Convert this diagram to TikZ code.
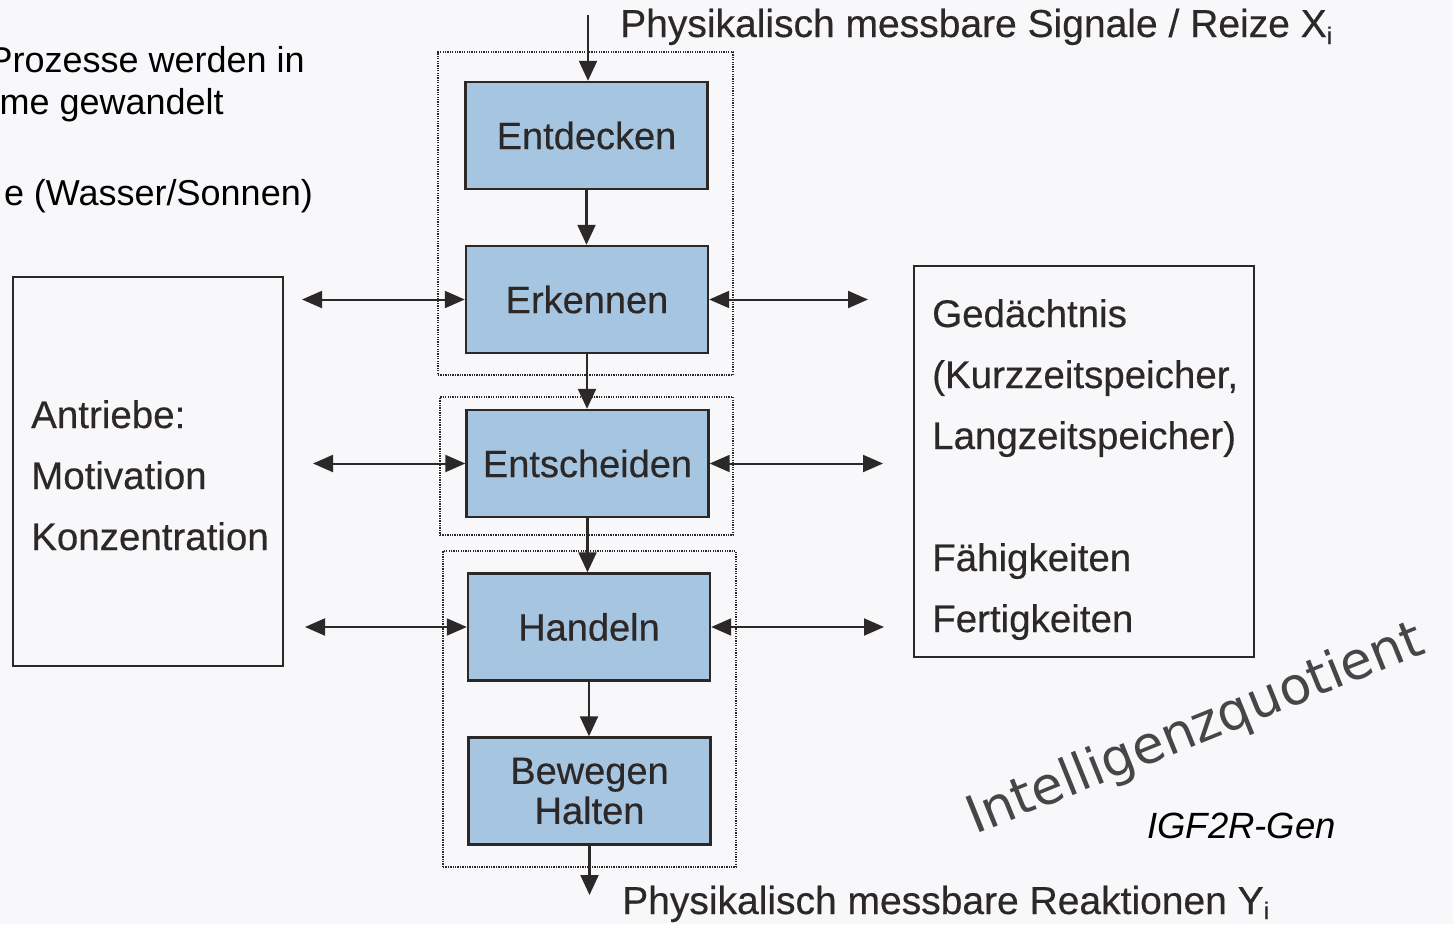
\documentclass[tikz,border=0pt]{standalone}
\usepackage{fontspec}
\setmainfont{Liberation Sans}[FakeBold=0.4]
\newfontfamily\tlfont{Liberation Sans}
\newfontfamily\ivfont{DejaVu Sans}
\usetikzlibrary{arrows.meta}
\definecolor{ink}{RGB}{45,40,40}
\definecolor{boxblue}{RGB}{166,197,224}
\definecolor{paper}{RGB}{248,248,250}
\definecolor{wmark}{RGB}{70,70,70}
\begin{document}
\begin{tikzpicture}[x=1pt,y=-1pt,
  proc/.style={draw=ink, line width=2.4pt, fill=boxblue, minimum width=242pt, minimum height=107pt, inner sep=0pt, text=ink, font=\fontsize{38}{40}\selectfont, align=center},
  grp/.style={draw=ink, line width=1.8pt, dash pattern=on 1.3pt off 1.1pt, inner sep=0pt},
  side/.style={draw=ink, line width=2pt, inner sep=0pt},
  flow/.style={draw=ink, line width=2.2pt, -{Triangle[length=20pt,width=18pt]}},
  dbl/.style={draw=ink, line width=2pt, {Triangle[length=20pt,width=17pt]}-{Triangle[length=20pt,width=17pt]}},
  lbl/.style={text=ink, font=\fontsize{38.5}{42}\selectfont, anchor=base west, inner sep=0pt},
  tl/.style={text=black, font=\tlfont\fontsize{36}{40}\selectfont, anchor=base east, inner sep=0pt},
]
\useasboundingbox (0,0) rectangle (1453,924);
\clip (0,0) rectangle (1453,924);
\fill[paper] (0,0) rectangle (1453,924);

% dotted groups
\node[grp, minimum width=295pt, minimum height=323pt] (g1) at (585.5,213.5) {};
\node[grp, minimum width=293pt, minimum height=138pt] (g2) at (586.5,466) {};
\node[grp, minimum width=293pt, minimum height=316pt] (g3) at (589.5,709) {};

% process boxes
\node[proc] (ent) at (586.5,135.5) {Entdecken};
\node[proc] (erk) at (587,299.5) {Erkennen};
\node[proc] (ens) at (587.5,463.5) {Entscheiden};
\node[proc] (han) at (589,627) {Handeln};
\node[proc] (bew) at (589.5,791) {Bewegen\\Halten};

% side boxes
\node[side, minimum width=270pt, minimum height=389pt] (antrbox) at (148,471.5) {};
\node[side, minimum width=340pt, minimum height=391pt] (memobox) at (1084,461.5) {};

% flow arrows
\coordinate (inX) at (588,15);
\coordinate (outY) at (592,895);
\draw[flow] (inX) -- (inX |- ent.north);
\draw[flow] (ent.south) -- (ent.south |- erk.north);
\draw[flow] (erk.south) -- (erk.south |- ens.north);
\draw[flow] (ens.south) -- (ens.south |- han.north);
\draw[flow] (han.south) -- (han.south |- bew.north);
\draw[flow] (bew.south) -- (bew.south |- outY);

% side arrows
\coordinate (la1) at (302,299.5);
\coordinate (la2) at (313,463.5);
\coordinate (la3) at (305,627);
\coordinate (ra1) at (868,299.5);
\coordinate (ra2) at (883,463.5);
\coordinate (ra3) at (884,627);
\draw[dbl] (la1) -- (la1 -| erk.west);
\draw[dbl] (la2) -- (la2 -| ens.west);
\draw[dbl] (la3) -- (la3 -| han.west);
\draw[dbl] (erk.east) -- (ra1);
\draw[dbl] (ens.east) -- (ra2);
\draw[dbl] (han.east) -- (ra3);

% texts in side boxes
\node[lbl] (antr) at (31,428) {Antriebe:};
\node[lbl] (moti) at (31,489) {Motivation};
\node[lbl] (konz) at (31,550) {Konzentration};
\node[lbl] (geda) at (932,327) {Gedächtnis};
\node[lbl] (kurz) at (932,388) {(Kurzzeitspeicher,};
\node[lbl] (lang) at (932,449) {Langzeitspeicher)};
\node[lbl] (faeh) at (932,571) {Fähigkeiten};
\node[lbl] (fert) at (932,632) {Fertigkeiten};

% input / output labels
\node[lbl, font=\fontsize{39}{42}\selectfont] (sig) at (620,37) {Physikalisch messbare Signale / Reize X\raisebox{-7pt}{\fontsize{24}{24}\selectfont i}};
\node[lbl, font=\fontsize{39}{42}\selectfont] (rea) at (622,914) {Physikalisch messbare Reaktionen Y\raisebox{-5pt}{\fontsize{24}{24}\selectfont i}};

% top-left text
\node[tl] (tl1) at (305,72) {Prozesse werden in};
\node[tl] (tl2) at (224,114) {me gewandelt};
\node[tl] (tl3) at (313,205) {e (Wasser/Sonnen)};

% annotations
\node[anchor=base east, inner sep=0pt, text=black, font=\tlfont\itshape\fontsize{36.5}{40}\selectfont] (igf) at (1336,838) {IGF2R-Gen};
\node[anchor=base west, inner sep=0pt, rotate=22, text=wmark, font=\ivfont\fontsize{52}{54}\selectfont] (iq) at (975,835) {Intelligenzquotient};
\end{tikzpicture}
\end{document}
